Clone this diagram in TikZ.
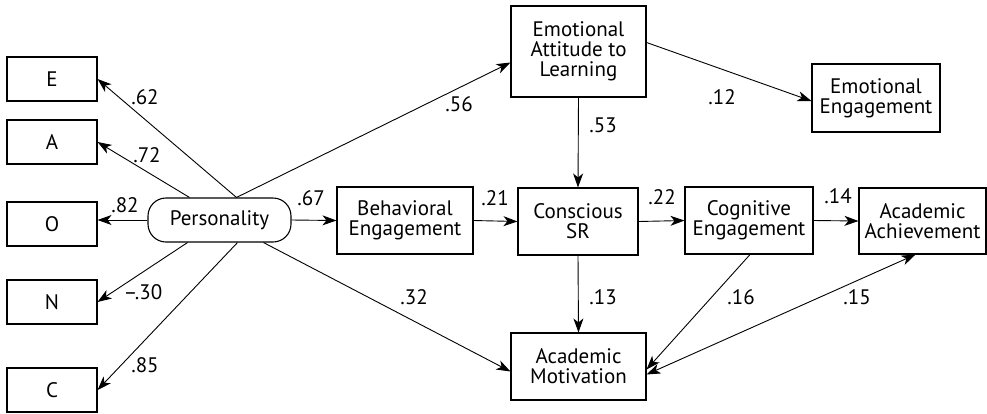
\documentclass[tikz,border=0pt]{standalone}
\usepackage{fontspec}
\setmainfont{PT Sans}
\usetikzlibrary{arrows.meta,calc}

\begin{document}
\begin{tikzpicture}[x=1pt,y=-1pt]
\tikzset{
  tip/.tip={Stealth[length=14pt,width=10pt,inset=4pt]},
  box/.style={draw, line width=1.1pt, align=center, inner sep=0pt, font=\fontsize{21}{20}\selectfont},
  trait/.style={box, minimum width=90pt, minimum height=44pt},
  link/.style={-tip, line width=0.9pt},
  lbl/.style={inner sep=0pt, font=\fontsize{21}{20}\selectfont}
}
\useasboundingbox (0,0) rectangle (987,413);
% big five traits
\node[trait] (E) at (52,79) {E};
\node[trait] (A) at (52,142) {A};
\node[trait] (O) at (52,224) {O};
\node[trait] (N) at (52,302) {N};
\node[trait] (C) at (52,390) {C};
% latent and observed variables
\node[box, rounded corners=18pt, minimum width=143pt, minimum height=44pt] (pers) at (219.5,220) {Personality};
\node[box, minimum width=136pt, minimum height=67pt] (beh) at (405,220.5) {Behavioral\\Engagement};
\node[box, minimum width=120pt, minimum height=67pt] (csr) at (578,221.5) {Conscious\\SR};
\node[box, minimum width=128pt, minimum height=67pt] (cog) at (749,220.5) {Cognitive\\Engagement};
\node[box, minimum width=127pt, minimum height=66pt] (ach) at (922.5,221) {Academic\\Achievement};
\node[box, minimum width=135pt, minimum height=91pt] (att) at (578.5,51.5) {Emotional\\Attitude to\\Learning};
\node[box, minimum width=128pt, minimum height=68pt] (emo) at (876,98) {Emotional\\Engagement};
\node[box, minimum width=135pt, minimum height=67pt] (mot) at (578.5,366.5) {Academic\\Motivation};
% paths
\draw[link] ([xshift=17pt]pers.north) -- (E.east);
\draw[link] ([xshift=-30pt]pers.north) -- (A.east);
\draw[link] (pers.west) -- (pers.west -| O.east);
\draw[link] ([xshift=-32pt]pers.south) -- (N.east);
\draw[link] ([xshift=18pt]pers.south) -- (C.east);
\draw[link] ([xshift=17pt]pers.north) -- ([yshift=-11pt]att.west);
\draw[link] (pers.east) -- (beh.west);
\draw[link] ([xshift=44pt]pers.south) -- ([yshift=-5pt]mot.west);
\draw[link] ([yshift=9pt]att.east) -- ([yshift=-3pt]emo.west);
\draw[link] (att.south) -- (csr.north);
\draw[link] (beh.east) -- (csr.west);
\draw[link] (csr.east) -- (cog.west);
\draw[link] (cog.east) -- (ach.west);
\draw[link] (csr.south) -- (mot.north);
\draw[link] ([xshift=1pt]cog.south) -- ([yshift=-3pt]mot.east);
\draw[link, tip-tip] ([yshift=-8pt]mot.east) -- ([xshift=-7pt]ach.south);
% coefficients
\node[lbl] (c62) at (145,97) {.62};
\node[lbl] (c72) at (147,155) {.72};
\node[lbl] (c82) at (125,205) {.82};
\node[lbl] (c30) at (143,292) {–.30};
\node[lbl] (c85) at (145,365) {.85};
\node[lbl] (c67) at (311,198) {.67};
\node[lbl] (c56) at (459,104) {.56};
\node[lbl] (c32) at (414,297) {.32};
\node[lbl] (c12) at (722,97) {.12};
\node[lbl] (c53) at (603,125) {.53};
\node[lbl] (c21) at (495,198) {.21};
\node[lbl] (c22) at (662,197) {.22};
\node[lbl] (c14) at (838,196) {.14};
\node[lbl] (c13) at (603,297) {.13};
\node[lbl] (c16) at (741,297) {.16};
\node[lbl] (c15) at (857,297) {.15};
\end{tikzpicture}
\end{document}
